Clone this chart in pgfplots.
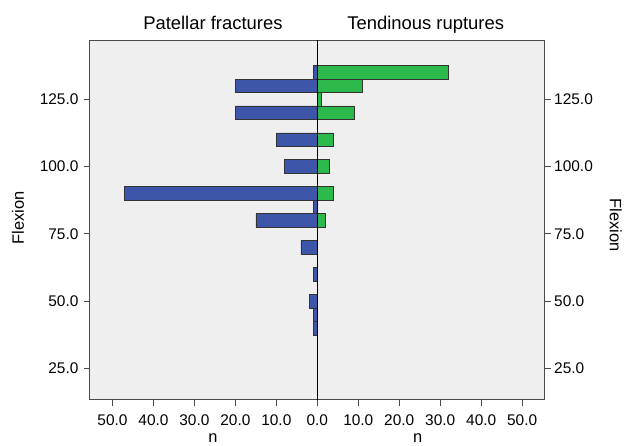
\documentclass[border=0pt]{standalone}
\usepackage{pgfplots}
\pgfplotsset{compat=1.18}
\usepackage{fontspec}
\setmainfont{Liberation Sans}
\definecolor{bblue}{HTML}{3E56A9}
\definecolor{bgreen}{HTML}{2DB84B}
\definecolor{bgc}{HTML}{EFEFEF}
\definecolor{framec}{HTML}{4A4A4A}
\begin{document}
\begin{tikzpicture}
\pgfplotsset{
  base/.style={
    scale only axis, width=455bp, height=360bp,
    xmin=-55.5, xmax=55.5, ymin=13.4, ymax=147,
    at={(0,0)}, anchor=south west,
    tick align=outside, major tick length=6bp,
    axis line style={draw=framec, line width=0.9bp},
    every tick/.style={draw=framec, line width=0.9bp},
    /pgf/number format/assume math mode=true,
    ticklabel style={font=\fontsize{15.5}{18}\selectfont},
    ytick={25,50,75,100,125},
    yticklabels={25.0,50.0,75.0,100.0,125.0},
  }
}
\begin{axis}[base,
  axis background/.style={fill=bgc},
  xtick={-50,-40,...,50},
  xticklabels={50.0,40.0,30.0,20.0,10.0,0.0,10.0,20.0,30.0,40.0,50.0},
  xticklabel style={yshift=-5bp},
  yticklabel style={xshift=-2bp},
  ytick pos=left, xtick pos=bottom,
]
\addplot[xbar, bar width=5, bar shift=0pt, fill=bblue, draw=black!80, line width=0.7bp]
  coordinates {(-1,135) (-20,130) (-20,120) (-10,110) (-8,100) (-47,90) (-1,85)
               (-15,80) (-4,70) (-1,60) (-2,50) (-1,45) (-1,40)};
\addplot[xbar, bar width=5, bar shift=0pt, fill=bgreen, draw=black!80, line width=0.7bp]
  coordinates {(32,135) (11,130) (1,125) (9,120) (4,110) (3,100) (4,90) (2,80)};
\addplot[black, line width=0.9bp] coordinates {(0,13.4) (0,147)};
\end{axis}
\begin{axis}[base,
  hide x axis, axis y line*=right,
]
\end{axis}
\node[anchor=base, font=\fontsize{18.5}{22}\selectfont] at (123bp,370.7bp) {Patellar fractures};
\node[anchor=base, font=\fontsize{18.5}{22}\selectfont] at (336bp,370.7bp) {Tendinous ruptures};
\node[font=\fontsize{16.5}{19}\selectfont] at (123bp,-38.5bp) {n};
\node[font=\fontsize{16.5}{19}\selectfont] at (328bp,-38.5bp) {n};
\node[rotate=90, font=\fontsize{16.5}{19}\selectfont] at (-72bp,182bp) {Flexion};
\node[rotate=-90, font=\fontsize{16.5}{19}\selectfont] at (526bp,175bp) {Flexion};
\path[use as bounding box] (-90bp,-43bp) rectangle (535bp,400bp);
\end{tikzpicture}
\end{document}
